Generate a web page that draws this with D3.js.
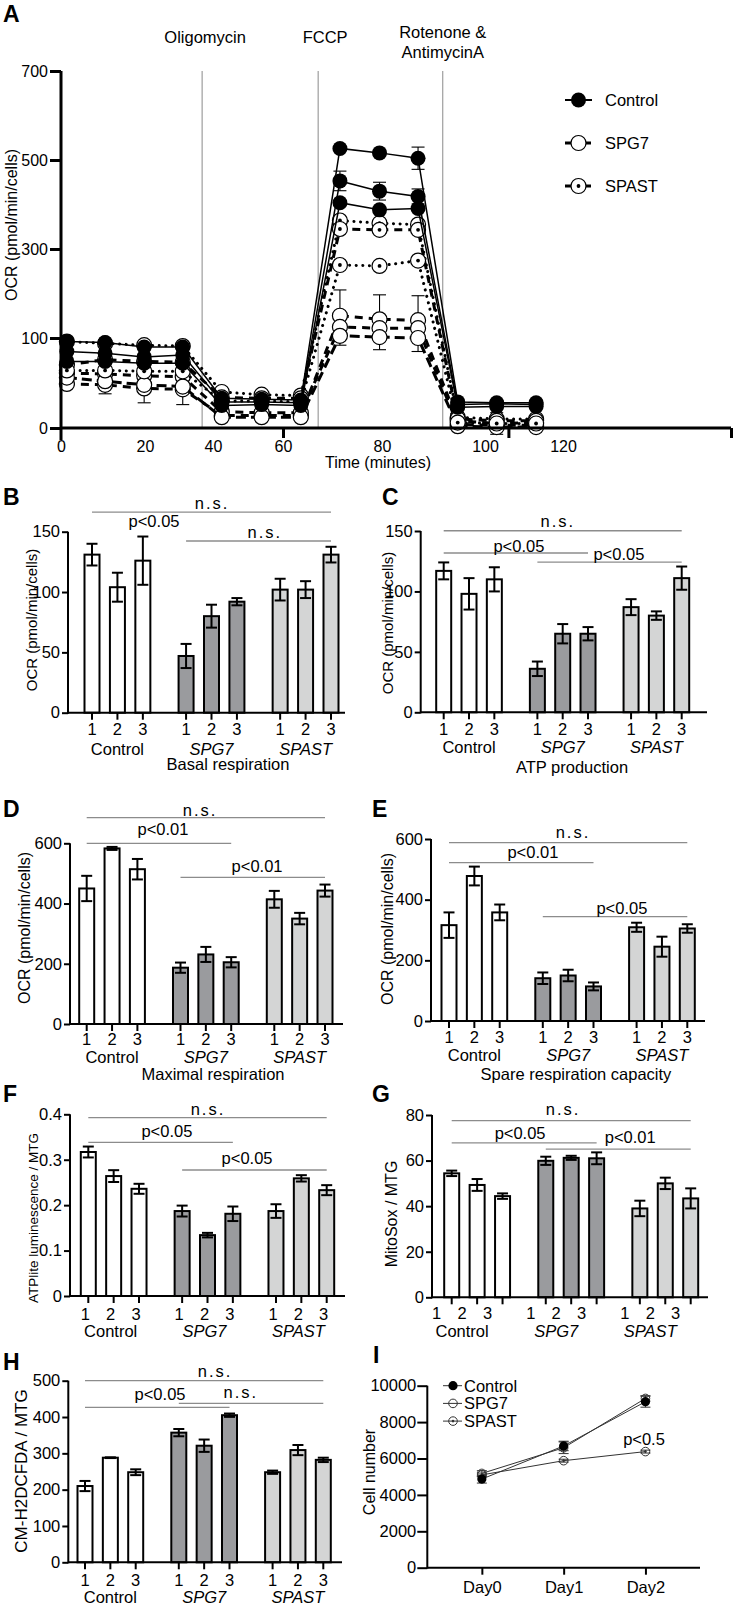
<!DOCTYPE html>
<html><head><meta charset="utf-8">
<script src="https://cdn.jsdelivr.net/npm/d3@7"></script>
<style>body{margin:0;background:#fff}svg{display:block}</style>
</head><body>
<svg id="fig" width="739" height="1610"></svg>
<script>
// ================= DATA =================
// Panel A: Seahorse OCR trace
const seahorseTimes = [1.4,10.5,19.8,31.1,42.5,53.9,63.6,71.5,79.5,87.0,94.7,103,113.1];
const seahorseXTicks = [0,20,40,60,80,100,120];
const seahorseYTicks = [0,100,300,500,700];
const injectionTimes = [36.8,67.1,91.8];
const injectionNames = [["Oligomycin"],["FCCP"],["Rotenone &","AntimycinA"]];
const ocrGroups = ["Control","SPG7","SPAST"];

const controlOCR1 = [96,95,90,90,33,32,31,526,516,504,29,28,28];
const controlErr1 = [0,0,0,0,0,0,0,0,0,25,0,0,0];
const controlOCR2 = [85,83,79,81,29,29,28,453,430,418,26,27,26];
const controlErr2 = [0,0,0,0,0,0,0,22,20,17,0,0,0];
const controlOCR3 = [74,74,72,72,25,26,25,404,388,391,23,24,24];
const controlErr3 = [0,0,0,0,0,0,0,0,0,0,0,0,0];

const spg7OCR1 = [49,48,44,43,14,14,14,150,142,140,8,5,6];
const spg7Err1 = [0,10,16,17,0,0,0,58,55,55,0,12,0];
const spg7OCR2 = [61,60,58,57,18,17,17,125,122,122,4,3,3];
const spg7Err2 = [0,0,0,0,0,0,0,0,0,0,0,0,0];
const spg7OCR3 = [56,52,48,46,12,12,12,105,102,100,2,1,1];
const spg7Err3 = [0,0,0,0,0,0,0,0,0,0,0,0,0];

const spastOCR1 = [96,94,92,91,40,37,36,364,358,355,12,10,10];
const spastErr1 = [0,0,0,0,0,0,0,0,0,0,0,0,0];
const spastOCR2 = [70,76,74,73,34,33,33,345,343,343,10,8,8];
const spastErr2 = [0,0,0,0,0,0,0,0,0,0,0,0,0];
const spastOCR3 = [64,64,63,63,30,30,29,264,262,274,6,5,5];
const spastErr3 = [0,0,0,0,0,0,0,0,0,0,0,0,0];

// Bar panels: 3 lines x 3 groups
const lineLabels = ["1","2","3"];
const groupLabels = ["Control","SPG7","SPAST"];

const basalMean = [131,104,126,47,80,92,102,102,131];
const basalErr  = [9,12,20,10,9.5,3,9,7,6.5];
const basalTicks = [0,50,100,150];
const basalSig = [{from:0,to:8,y:166.3,label:"n.s.",at:4.72,ly:168.8},{label:"p<0.05",at:2.44,ly:154.3},{from:3,to:8,y:142.3,label:"n.s.",at:6.8,ly:144.8}];

const atpMean = [117,98,110,36,65,65,87,80,111];
const atpErr  = [7,13,10,6,8,5.5,6.6,3.5,9.6];
const atpTicks = [0,50,100,150];
const atpSig = [{from:0,to:8,y:150.2,label:"n.s.",at:4.51,ly:153.3},{from:0,to:5,y:131.8,label:"p<0.05",at:2.97,ly:133},{from:3,to:8,y:124.3,label:"p<0.05",at:6.92,ly:126.4}];

const maxMean = [450,583,514,187,231,205,414,350,443];
const maxErr  = [42,5,34,17,25,17,28,19,20];
const maxTicks = [0,200,400,600];
const maxSig = [{from:0,to:8,y:685,label:"n.s.",at:4.47,ly:692},{from:0,to:5,y:600,label:"p<0.01",at:3.01,ly:629},{from:3,to:8,y:487,label:"p<0.01",at:6.72,ly:506}];

const spareMean = [316,478,358,141,150,114,309,245,305];
const spareErr  = [42,31,26,19,19,13,15,33,14];
const spareTicks = [0,200,400,600];
const spareSig = [{from:0,to:8,y:588,label:"n.s.",at:4.89,ly:603},{from:0,to:5,y:522,label:"p<0.01",at:3.31,ly:536},{from:3,to:8,y:344,label:"p<0.05",at:6.82,ly:354}];

const atpliteMean = [0.317,0.264,0.236,0.187,0.134,0.181,0.187,0.259,0.233];
const atpliteErr  = [0.012,0.013,0.011,0.012,0.005,0.016,0.015,0.007,0.011];
const atpliteTicks = [0,0.1,0.2,0.3,0.4];
const atpliteSig = [{from:0,to:8,y:0.3925,label:"n.s.",at:4.72,ly:0.3985},{from:0,to:5,y:0.3384,label:"p<0.05",at:3.1,ly:0.351},{from:3,to:8,y:0.2774,label:"p<0.05",at:6.26,ly:0.2895}];

const mitosoxMean = [54.4,49.3,44.4,59.9,61.2,61,39,50,43.4];
const mitosoxErr  = [1.2,2.6,1.2,1.8,0.9,2.6,3.4,2.5,4.4];
const mitosoxTicks = [0,20,40,60,80];
const mitosoxSig = [{from:0,to:8,y:77.5,label:"n.s.",at:4.38,ly:80},{from:0,to:5,y:67.8,label:"p<0.05",at:2.69,ly:69.5},{from:3,to:8,y:65,label:"p<0.01",at:7.02,ly:67.5}];

const h2dcfdaMean = [210,288,248,357,321,405,248,309,282];
const h2dcfdaErr  = [14,1,8,10,17,4.6,4.5,14,6];
const h2dcfdaTicks = [0,100,200,300,400,500];
const h2dcfdaSig = [{from:0,to:8,y:500,label:"n.s.",at:5.13,ly:510},{from:0,to:5,y:426.6,label:"p<0.05",at:2.96,ly:448},{from:3,to:8,y:437.7,label:"n.s.",at:6.15,ly:452}];

// Panel I: growth
const days = ["Day0","Day1","Day2"];
const growthTicks = [0,2000,4000,6000,8000,10000];
const growthControl = [4870,6690,9120];
const growthControlErr = [220,260,300];
const growthSPG7 = [5180,6590,9300];
const growthSPG7Err = [150,320,150];
const growthSPAST = [5100,5880,6380];
const growthSPASTErr = [100,80,80];

// ================= DRAWING =================
const FONT = '"Liberation Sans", Arial, Helvetica, sans-serif';
const svg = d3.select("#fig");
svg.append("rect").attr("width",739).attr("height",1610).attr("fill","#fff");

function txt(x,y,s,o={}){
  const t = svg.append("text").attr("x",x).attr("y",y).text(s)
    .attr("font-family",FONT).attr("font-size",o.size||16).attr("fill","#000");
  if(o.anchor) t.attr("text-anchor",o.anchor);
  if(o.weight) t.attr("font-weight",o.weight);
  if(o.style) t.attr("font-style",o.style);
  if(o.ls) t.attr("letter-spacing",o.ls);
  return t;
}
function vlabel(x,y,s,size){
  svg.append("text").attr("transform",`translate(${x},${y}) rotate(-90)`)
    .attr("text-anchor","middle").attr("font-family",FONT).attr("font-size",size)
    .attr("fill","#000").text(s);
}
function styleAxis(g,sw,size){
  g.selectAll("path.domain").remove();
  g.selectAll(".tick line").attr("stroke","#000").attr("stroke-width",sw);
  g.selectAll(".tick text").attr("font-family",FONT).attr("font-size",size||16).attr("fill","#000");
}

// ---------- Panel A ----------
(function(){
  const g = svg.append("g");
  const x = d3.scaleLinear().domain([0,20,40,60,80,100,120,163]).range([61,145,213,283,382,485,563,731]);
  const y = d3.scaleLinear().domain([0,100,700]).range([428,338,71]);
  txt(3,22,"A",{size:23,weight:"bold"});
  // injection markers
  const labOff = [3,7,0];
  injectionTimes.forEach((t,i)=>{
    g.append("line").attr("x1",x(t)).attr("x2",x(t)).attr("y1",y(700)).attr("y2",y(0))
      .attr("stroke","#8a8a8a").attr("stroke-width",1);
    const names = injectionNames[i];
    names.forEach((n,j)=>{
      const base = names.length===1 ? 43 : 38 + j*19.5;
      txt(x(t)+labOff[i],base,n,{anchor:"middle",size:16.5});
    });
  });
  const style = {
    Control:{w:1.5},
    SPG7:{w:3},
    SPAST:{w:3}
  };
  const series = [
    {grp:"SPG7",v:spg7OCR1,e:spg7Err1,dash:"8,6"},
    {grp:"SPG7",v:spg7OCR2,e:spg7Err2,dash:"8,6"},
    {grp:"SPG7",v:spg7OCR3,e:spg7Err3,dash:"10,5"},
    {grp:"SPAST",v:spastOCR1,e:spastErr1,dash:"0.1,6.5"},
    {grp:"SPAST",v:spastOCR2,e:spastErr2,dash:"8,6"},
    {grp:"SPAST",v:spastOCR3,e:spastErr3,dash:"0.1,6.5"},
    {grp:"Control",v:controlOCR1,e:controlErr1,dash:null},
    {grp:"Control",v:controlOCR2,e:controlErr2,dash:null},
    {grp:"Control",v:controlOCR3,e:controlErr3,dash:null}
  ];
  const line = d3.line().x((d,i)=>x(seahorseTimes[i])).y(d=>y(d));
  function marker(gg,cx,cy,grp,r){
    if(grp==="Control"){
      gg.append("circle").attr("cx",cx).attr("cy",cy).attr("r",r).attr("fill","#000");
    } else {
      gg.append("circle").attr("cx",cx).attr("cy",cy).attr("r",r).attr("fill","#fff").attr("stroke","#000").attr("stroke-width",1.2);
      if(grp==="SPAST") gg.append("circle").attr("cx",cx).attr("cy",cy).attr("r",1.9).attr("fill","#000");
    }
  }
  series.forEach(s=>{
    const p = g.append("path").attr("d",line(s.v)).attr("fill","none").attr("stroke","#000")
      .attr("stroke-width",style[s.grp].w).attr("stroke-linecap", s.dash==="0.1,6.5"?"round":"butt");
    if(s.dash) p.attr("stroke-dasharray",s.dash);
    s.v.forEach((v,i)=>{
      const cx = x(seahorseTimes[i]);
      if(s.e[i]>0){
        const y1=y(v-s.e[i]), y2=y(v+s.e[i]);
        g.append("line").attr("x1",cx).attr("x2",cx).attr("y1",y1).attr("y2",y2).attr("stroke","#000").attr("stroke-width",1.1);
        [y1,y2].forEach(yy=>g.append("line").attr("x1",cx-6.5).attr("x2",cx+6.5).attr("y1",yy).attr("y2",yy).attr("stroke","#000").attr("stroke-width",1.1));
      }
      marker(g,cx,y(v),s.grp,7.5);
    });
  });
  // axes
  g.append("line").attr("x1",61).attr("x2",731).attr("y1",428).attr("y2",428).attr("stroke","#000").attr("stroke-width",3);
  g.append("line").attr("x1",61).attr("x2",61).attr("y1",y(700)).attr("y2",440).attr("stroke","#000").attr("stroke-width",3);
  const ya = svg.append("g").attr("transform","translate(61,0)")
    .call(d3.axisLeft(y).tickValues(seahorseYTicks).tickSize(11).tickPadding(2));
  styleAxis(ya,3,16);
  const xa = svg.append("g").attr("transform","translate(0,428)")
    .call(d3.axisBottom(x).tickValues(seahorseXTicks).tickSize(0).tickPadding(12.5));
  styleAxis(xa,3,16);
  const xm = svg.append("g").attr("transform","translate(0,428)")
    .call(d3.axisBottom(x).tickValues([60,106,163]).tickSize(10).tickFormat(""));
  styleAxis(xm,3,16);
  txt(378,468,"Time (minutes)",{anchor:"middle",size:16});
  vlabel(17,225,"OCR (pmol/min/cells)",16);
  // legend
  ocrGroups.forEach((grp,i)=>{
    const ly = 100 + i*43;
    const l = g.append("line").attr("x1",565).attr("x2",592).attr("y1",ly).attr("y2",ly).attr("stroke","#000")
      .attr("stroke-width",grp==="Control"?2:3);
    if(grp!=="Control") l.attr("stroke-dasharray","6,4");
    marker(g,578.5,ly,grp,7.5);
    txt(605,ly+6,grp,{size:16.5});
  });
})();

// ---------- Bar panels ----------
const groupFill = ["#ffffff","#9a9b9e","#d4d5d5"];
function barPanel(c){
  const g = svg.append("g");
  const x = d3.scaleLinear().domain([0,9.4]).range([c.x0,c.x1]);
  const y = d3.scaleLinear().domain([0,c.max]).range([c.zeroY,c.topY]);
  const slot = k => Math.floor(k/3)*3.7 + k%3;
  txt(c.lx,c.ly,c.letter,{size:23,weight:"bold"});
  // significance
  c.sigs.forEach(s=>{
    if(s.from!=null){
      g.append("line").attr("x1",x(slot(s.from))).attr("x2",x(slot(s.to)))
        .attr("y1",y(s.y)).attr("y2",y(s.y)).attr("stroke","#8c8c8c").attr("stroke-width",1.3);
    }
    txt(x(s.at),y(s.ly),s.label,{anchor:"middle",size:16.5,ls:s.label==="n.s."?"2":null});
  });
  // bars
  c.means.forEach((m,k)=>{
    const cx = x(slot(k));
    g.append("rect").attr("x",cx-7.5).attr("width",15).attr("y",y(m)).attr("height",c.zeroY-y(m))
      .attr("fill",groupFill[Math.floor(k/3)]).attr("stroke","#000").attr("stroke-width",2);
    const e = c.errs[k];
    const y1 = y(m-e), y2 = y(m+e);
    g.append("line").attr("x1",cx).attr("x2",cx).attr("y1",y1).attr("y2",y2).attr("stroke","#000").attr("stroke-width",2);
    [y1,y2].forEach(yy=>g.append("line").attr("x1",cx-5.5).attr("x2",cx+5.5).attr("y1",yy).attr("y2",yy).attr("stroke","#000").attr("stroke-width",2));
    // x tick
    g.append("line").attr("x1",cx).attr("x2",cx).attr("y1",c.zeroY).attr("y2",c.zeroY+7).attr("stroke","#000").attr("stroke-width",2);
    txt(cx+(c.shift||0),c.zeroY+c.tlOff,lineLabels[k%3],{anchor:"middle",size:16.5});
  });
  groupLabels.forEach((gl,j)=>{
    txt(x(slot(j*3+1))+(c.shift||0),c.zeroY+c.glOff,gl,{anchor:"middle",size:16.5,style:j>0?"italic":null});
  });
  // axes
  g.append("line").attr("x1",c.axisX).attr("x2",c.axisEnd).attr("y1",c.zeroY).attr("y2",c.zeroY).attr("stroke","#000").attr("stroke-width",2);
  g.append("line").attr("x1",c.axisX).attr("x2",c.axisX).attr("y1",c.topY).attr("y2",c.zeroY+1).attr("stroke","#000").attr("stroke-width",2);
  const ya = svg.append("g").attr("transform",`translate(${c.axisX},0)`)
    .call(d3.axisLeft(y).tickValues(c.ticks).tickSize(6).tickPadding(2).tickFormat(c.fmt||(v=>String(v))));
  styleAxis(ya,2,16.5);
  if(c.title) txt(c.tx,c.ty,c.title,{anchor:"middle",size:16.5});
  vlabel(c.ylx,c.yly,c.ylab,c.ylsize);
}

barPanel({letter:"B",lx:3,ly:505,axisX:68,axisEnd:345,zeroY:712.7,topY:531.7,max:150,ticks:basalTicks,
  x0:92,x1:331,means:basalMean,errs:basalErr,sigs:basalSig,tlOff:22,glOff:42,
  title:"Basal respiration",tx:228,ty:770,ylab:"OCR (pmol/min/cells)",ylx:37,yly:620,ylsize:15});
barPanel({letter:"C",lx:382,ly:505,axisX:420.7,axisEnd:707,zeroY:712.3,topY:531,max:150,ticks:atpTicks,
  x0:443.7,x1:681.7,means:atpMean,errs:atpErr,sigs:atpSig,tlOff:23,glOff:41,
  title:"ATP production",tx:572,ty:773,ylab:"OCR (pmol/min/cells)",ylx:393,yly:623,ylsize:15});
barPanel({letter:"D",lx:3,ly:817,axisX:70,axisEnd:343,zeroY:1024,topY:843.3,max:600,ticks:maxTicks,
  x0:86.7,x1:325,means:maxMean,errs:maxErr,sigs:maxSig,tlOff:21,glOff:39,
  title:"Maximal respiration",tx:213,ty:1080,ylab:"OCR (pmol/min/cells)",ylx:30,yly:928,ylsize:16});
barPanel({letter:"E",lx:372,ly:817,axisX:431,axisEnd:705,zeroY:1021,topY:839,max:600,ticks:spareTicks,
  x0:449,x1:687.3,means:spareMean,errs:spareErr,sigs:spareSig,tlOff:22,glOff:40,
  title:"Spare respiration capacity",tx:576,ty:1080,ylab:"OCR (pmol/min/cells)",ylx:393,yly:929,ylsize:16});
barPanel({letter:"F",lx:3,ly:1102,axisX:70,axisEnd:345,zeroY:1296,topY:1114.3,max:0.4,ticks:atpliteTicks,
  fmt:v=>v===0?"0":d3.format(".1f")(v),
  x0:88.3,x1:326.7,means:atpliteMean,errs:atpliteErr,sigs:atpliteSig,tlOff:24,glOff:41,shift:-3,
  ylab:"ATPlite luminescence / MTG",ylx:38,yly:1218,ylsize:13.5});
barPanel({letter:"G",lx:372,ly:1102,axisX:432,axisEnd:708,zeroY:1297.3,topY:1115,max:80,ticks:mitosoxTicks,
  x0:451.7,x1:690.7,means:mitosoxMean,errs:mitosoxErr,sigs:mitosoxSig,tlOff:22,glOff:40,shift:-15,
  ylab:"MitoSox / MTG",ylx:397,yly:1214,ylsize:16});
barPanel({letter:"H",lx:3,ly:1370,axisX:68.3,axisEnd:342,zeroY:1562.3,topY:1380.7,max:500,ticks:h2dcfdaTicks,
  x0:85,x1:323.3,means:h2dcfdaMean,errs:h2dcfdaErr,sigs:h2dcfdaSig,tlOff:24,glOff:41,
  ylab:"CM-H2DCFDA / MTG",ylx:27,yly:1471,ylsize:17});

// ---------- Panel I ----------
(function(){
  const g = svg.append("g");
  const x = d3.scalePoint().domain(days).range([427.3,700]).padding(0.667);
  const y = d3.scaleLinear().domain([0,10000]).range([1567.7,1385.7]);
  txt(373,1363,"I",{size:23,weight:"bold"});
  const series = [
    {name:"Control",v:growthControl,e:growthControlErr},
    {name:"SPG7",v:growthSPG7,e:growthSPG7Err},
    {name:"SPAST",v:growthSPAST,e:growthSPASTErr}
  ];
  const line = d3.line().x((d,i)=>x(days[i])).y(d=>y(d));
  function mk(gg,cx,cy,name){
    if(name==="Control") gg.append("circle").attr("cx",cx).attr("cy",cy).attr("r",4.6).attr("fill","#000");
    else {
      gg.append("circle").attr("cx",cx).attr("cy",cy).attr("r",4.3).attr("fill","none").attr("stroke","#333").attr("stroke-width",1);
      if(name==="SPAST") gg.append("circle").attr("cx",cx).attr("cy",cy).attr("r",1.3).attr("fill","#333");
    }
  }
  [series[1],series[2],series[0]].forEach(s=>{
    g.append("path").attr("d",line(s.v)).attr("fill","none").attr("stroke","#333").attr("stroke-width",1);
    s.v.forEach((v,i)=>{
      const cx=x(days[i]); const y1=y(v-s.e[i]), y2=y(v+s.e[i]);
      g.append("line").attr("x1",cx).attr("x2",cx).attr("y1",y1).attr("y2",y2).attr("stroke","#333").attr("stroke-width",1);
      [y1,y2].forEach(yy=>g.append("line").attr("x1",cx-5).attr("x2",cx+5).attr("y1",yy).attr("y2",yy).attr("stroke","#333").attr("stroke-width",1));
      mk(g,cx,y(v),s.name);
    });
  });
  // axes
  g.append("line").attr("x1",427.3).attr("x2",700).attr("y1",1567.7).attr("y2",1567.7).attr("stroke","#000").attr("stroke-width",2);
  g.append("line").attr("x1",427.3).attr("x2",427.3).attr("y1",1385.7).attr("y2",1568.7).attr("stroke","#000").attr("stroke-width",2);
  const ya = svg.append("g").attr("transform","translate(427.3,0)")
    .call(d3.axisLeft(y).tickValues(growthTicks).tickSize(10).tickPadding(1).tickFormat(d3.format("d")));
  styleAxis(ya,2,16.5);
  const xa = svg.append("g").attr("transform","translate(0,1567.7)")
    .call(d3.axisBottom(x).tickSize(7).tickPadding(7));
  styleAxis(xa,2,16.5);
  vlabel(375,1472,"Cell number",16);
  // legend
  series.forEach((s,i)=>{
    const ly = 1385.7 + i*17.7;
    g.append("line").attr("x1",443).attr("x2",462).attr("y1",ly).attr("y2",ly).attr("stroke","#333").attr("stroke-width",1);
    mk(g,453,ly,s.name);
    txt(464,ly+6,s.name,{size:16.5});
  });
  txt(644,1445,"p<0.5",{anchor:"middle",size:16.5});
})();
</script>
</body></html>
